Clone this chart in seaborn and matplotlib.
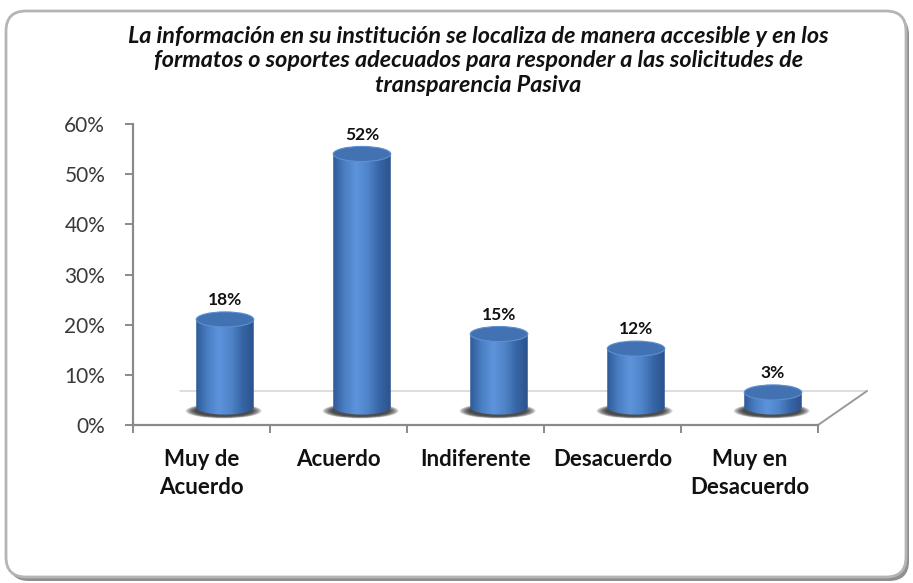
import numpy as np
import pandas as pd
import seaborn as sns
import matplotlib.pyplot as plt
from matplotlib.patches import Ellipse, FancyBboxPatch, Polygon
from matplotlib.colors import LinearSegmentedColormap

# data
categories = ['Muy de\nAcuerdo', 'Acuerdo', 'Indiferente', 'Desacuerdo', 'Muy en\nDesacuerdo']
values = [0.18, 0.52, 0.15, 0.12, 0.03]
value_labels = ['18%', '52%', '15%', '12%', '3%']
yticks = [0, 0.1, 0.2, 0.3, 0.4, 0.5, 0.6]
ytick_labels = ['0%', '10%', '20%', '30%', '40%', '50%', '60%']
title = ('La información en su institución se localiza de manera accesible y en los\n'
         'formatos o soportes adecuados para responder a las solicitudes de\n'
         'transparencia Pasiva')

sns.set_theme(style='white')
plt.rcParams['font.family'] = ['Lato', 'DejaVu Sans']

fig = plt.figure(figsize=(9.13, 5.83), dpi=100)

# rounded outer frame with shadow
shadow = FancyBboxPatch((0.09, 0.02), 9.0, 5.66, boxstyle='round,pad=0,rounding_size=0.2',
                        transform=fig.dpi_scale_trans, fc='#8f8f8f', ec='none', zorder=-3)
frame = FancyBboxPatch((0.06, 0.06), 9.0, 5.66, boxstyle='round,pad=0,rounding_size=0.2',
                       transform=fig.dpi_scale_trans, fc='white', ec='#b5b5b5', lw=2, zorder=-2)
fig.patches.extend([shadow, frame])

fig.text(0.524, 0.956, title, ha='center', va='top', fontsize=16.8, fontweight='bold',
         style='italic', color='#111111', linespacing=1.22)

# axes with the value scale
ax = fig.add_axes([0.1457, 0.2710, 0.7503, 0.5163])
ax.set_facecolor('none')
ax.set_xlim(-0.5, 4.5)
ax.set_ylim(0, 0.6)
for s in ['top', 'right']:
    ax.spines[s].set_visible(False)
for s in ['left', 'bottom']:
    ax.spines[s].set_color('#8a8a8a')
    ax.spines[s].set_linewidth(1.6)
ax.set_yticks(yticks, ytick_labels)
ax.set_xticks(np.arange(-0.5, 5, 1), [''] * 6)
ax.set_xticks(range(len(categories)), categories, minor=True)
ax.tick_params(axis='both', which='major', direction='out', length=6, width=1.4,
               color='#8a8a8a', left=True, bottom=True)
ax.tick_params(axis='y', labelsize=15, labelcolor='#3a3a3a', pad=14)
ax.tick_params(axis='x', which='minor', length=0, pad=17, labelsize=16)
for t in ax.get_xticklabels(minor=True):
    t.set_fontweight('bold')
    t.set_linespacing(1.45)
    t.set_color('#111111')

# floor of the 3D plot
ax.plot([0.0686, 1.0715], [0.113, 0.113], transform=ax.transAxes, color='#d8d8d8',
        lw=1.2, clip_on=False)
ax.plot([1.0, 1.0715], [0.0, 0.113], transform=ax.transAxes, color='#9a9a9a',
        lw=1.4, clip_on=False)

# bars on an overlay axes set back in depth (a little room below zero for the base)
ax2 = fig.add_axes([0.1714, 0.2768, 0.7503, 0.5259])
df = pd.DataFrame({'cat': categories, 'val': values})
sns.barplot(data=df, x='cat', y='val', ax=ax2, width=0.42, color='#4a7ebb')
ax2.axis('off')

cmap = LinearSegmentedColormap.from_list('cyl', ['#2f5a97', '#4a7fc4', '#5e94dc',
                                                 '#4f84c9', '#3766a6', '#2b528c'])
grad = np.linspace(0, 1, 256).reshape(1, -1)
eh = 0.031
for p, lab in zip(ax2.patches, value_labels):
    x0, w, h = p.get_x(), p.get_width(), p.get_height()
    xc = x0 + w / 2
    p.set_alpha(0)
    # soft shadow at the base
    for k in np.linspace(1.32, 1.0, 8):
        ax2.add_patch(Ellipse((xc - 0.01, -0.008), w * k, eh * k * 0.75, fc='#151515',
                              ec='none', alpha=0.16, zorder=1))
    t = np.linspace(0, np.pi, 40)
    arc = np.column_stack([xc + w / 2 * np.cos(t), -eh / 2 * np.sin(t)])
    verts = np.vstack([[[x0, 0], [x0, h], [x0 + w, h]], arc])
    body = Polygon(verts, closed=True, fc='none', ec='none')
    ax2.add_patch(body)
    im = ax2.imshow(grad, extent=(x0, x0 + w, -eh, h), aspect='auto', cmap=cmap, zorder=3)
    im.set_clip_path(body)
    ax2.add_patch(Ellipse((xc, h), w, eh, fc='#4372b2', ec='#5d8fd3', lw=0.8, zorder=4))
    ax2.annotate(lab, (xc, h), xytext=(0, 14), textcoords='offset points', ha='center',
                 va='center', fontsize=12.5, fontweight='bold', color='#111111')
ax2.set_xlim(-0.5, 4.5)
ax2.set_ylim(-0.03, 0.6)

fig.savefig('out.png', dpi=100)
